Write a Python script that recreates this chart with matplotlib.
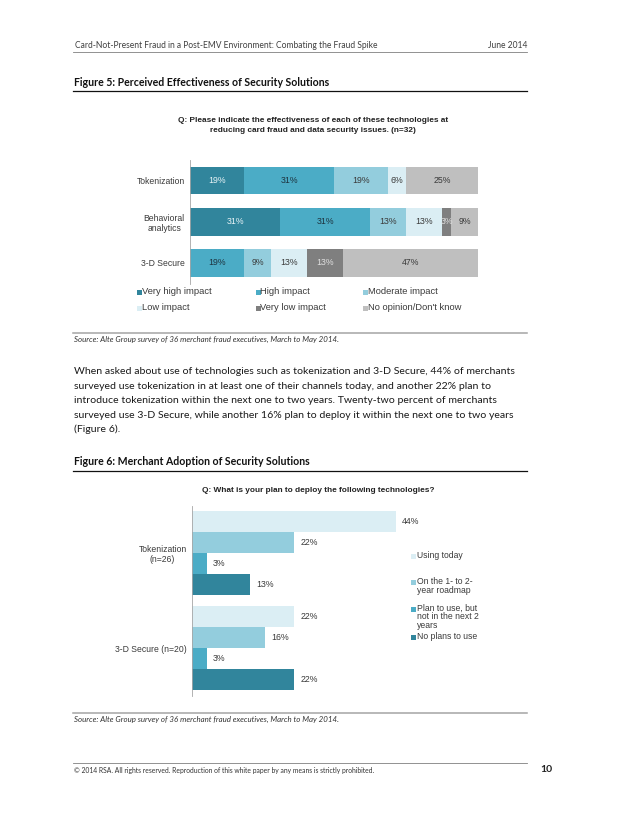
import numpy as np
import matplotlib
matplotlib.use("Agg")
import matplotlib.pyplot as plt
from matplotlib.patches import Rectangle
from matplotlib.lines import Line2D

W, H = 638, 826
DPI = 75

# Figure 5 data (share of respondents, n=32)
fig5_categories = ["Tokenization", "Behavioral\nanalytics", "3-D Secure"]
fig5_levels = ["Very high impact", "High impact", "Moderate impact",
               "Low impact", "Very low impact", "No opinion/Don't know"]
very_high = [18.75, 31.25, 0]
high = [31.25, 31.25, 18.75]
moderate = [18.75, 12.5, 9.375]
low = [6.25, 12.5, 12.5]
very_low = [0, 3.125, 12.5]
no_opinion = [25, 9.375, 46.875]

# Figure 6 data
fig6_categories = ["Tokenization\n(n=26)", "3-D Secure (n=20)"]
fig6_plans = ["Using today", "On the 1- to 2-\nyear roadmap",
              "Plan to use, but\nnot in the next 2\nyears", "No plans to use"]
using_today = [43.75, 21.875]
roadmap = [21.875, 15.625]
plan_later = [3.125, 3.125]
no_plans = [12.5, 21.875]

body_font = "Lato"
chart_font = "Liberation Sans"
dark = "#31859C"
mid = "#4BACC6"
light = "#93CDDD"
pale = "#DBEEF4"
gray_dk = "#7F7F7F"
gray_lt = "#BFBFBF"
txt = "#3A3A3A"
fs_tick = 8.3
fs_val = 8.4

fig = plt.figure(figsize=(W / DPI, H / DPI), dpi=DPI)
fig.patch.set_facecolor("white")


def fx(x):
    return x / W


def fy(y):
    return 1 - y / H


def text(x, y, s, **kw):
    kw.setdefault("va", "center")
    fig.text(fx(x), fy(y), s, **kw)


def hline(y, x0, x1, color, lw):
    fig.add_artist(Line2D([fx(x0), fx(x1)], [fy(y), fy(y)], color=color, lw=lw,
                          transform=fig.transFigure))


def swatch(x, y, color):
    fig.add_artist(Rectangle((fx(x), fy(y + 2.5)), 5 / W, 5 / H, color=color,
                             transform=fig.transFigure, lw=0))


# page furniture
text(75, 45, "Card-Not-Present Fraud in a Post-EMV Environment: Combating the Fraud Spike",
     family=body_font, fontsize=8.2, color="#404040")
text(527, 45, "June 2014", family=body_font, fontsize=8.2, color="#404040", ha="right")
hline(51.5, 73, 527, "#808080", 0.8)

text(74, 82.5, "Figure 5: Perceived Effectiveness of Security Solutions",
     family=body_font, fontsize=10.1, fontweight="bold", color="#111111")
hline(91, 73, 527, "#111111", 1.2)

text(313, 120, "Q: Please indicate the effectiveness of each of these technologies at",
     family=chart_font, fontsize=7.9, fontweight="bold", ha="center", color="#222222")
text(313, 130, "reducing card fraud and data security issues. (n=32)",
     family=chart_font, fontsize=7.9, fontweight="bold", ha="center", color="#222222")

# Figure 5 chart
ax1 = fig.add_axes([fx(190), fy(283.6), 288 / W, 123.7 / H])
series5 = [very_high, high, moderate, low, very_low, no_opinion]
colors5 = [dark, mid, light, pale, gray_dk, gray_lt]
label_colors5 = ["#E8F3F6", "#1E3440", txt, txt, "#E0E0E0", txt]
y5 = np.arange(len(fig5_categories))
left = np.zeros(len(fig5_categories))
for vals, c, tc in zip(series5, colors5, label_colors5):
    vals = np.array(vals, dtype=float)
    bars = ax1.barh(y5, vals, left=left, height=0.667, color=c, lw=0)
    labs = [f"{int(v + 0.5)}%" if v > 0 else "" for v in vals]
    ax1.bar_label(bars, labels=labs, label_type="center", color=tc,
                  fontsize=fs_val, family=chart_font)
    left += vals
ax1.set_xlim(0, 100)
ax1.set_ylim(2.5, -0.5)
ax1.set_yticks(y5)
ax1.set_yticklabels(fig5_categories, family=chart_font, fontsize=fs_tick, color=txt)
for t in ax1.get_yticklabels():
    t.set_multialignment("center")
ax1.tick_params(axis="y", length=0, pad=5)
ax1.set_xticks([])
for s in ["top", "right", "bottom"]:
    ax1.spines[s].set_visible(False)
ax1.spines["left"].set_color("#A6A6A6")
ax1.spines["left"].set_linewidth(0.8)

leg5_x = [137, 256, 363]
leg5_y = [292, 308]
for i, (name, c) in enumerate(zip(fig5_levels, colors5)):
    x = leg5_x[i % 3]
    yy = leg5_y[i // 3]
    swatch(x, yy, c)
    text(x + 4.5, yy, name, family=chart_font, fontsize=9.0, color=txt)

hline(333, 73, 527, "#A6A6A6", 1.5)
text(74, 339.5, "Source: Alte Group survey of 36 merchant fraud executives, March to May 2014.",
     family=body_font, fontsize=7.6, style="italic", color="#333333")

body = [
    "When asked about use of technologies such as tokenization and 3-D Secure, 44% of merchants",
    "surveyed use tokenization in at least one of their channels today, and another 22% plan to",
    "introduce tokenization within the next one to two years. Twenty-two percent of merchants",
    "surveyed use 3-D Secure, while another 16% plan to deploy it within the next one to two years",
    "(Figure 6).",
]
for i, line in enumerate(body):
    text(74, 371.7 + i * 14.5, line, family=body_font, fontsize=10.05, color="#1A1A1A")

text(74, 462, "Figure 6: Merchant Adoption of Security Solutions",
     family=body_font, fontsize=10.1, fontweight="bold", color="#111111")
hline(470.7, 73, 527, "#111111", 1.2)

text(318, 490, "Q: What is your plan to deploy the following technologies?",
     family=chart_font, fontsize=7.9, fontweight="bold", ha="center", color="#222222")

# Figure 6 chart
ax2 = fig.add_axes([fx(192), fy(695.5), 233 / W, 190 / H])
series6 = [using_today, roadmap, plan_later, no_plans]
colors6 = [pale, light, mid, dark]
bh = 21 / 95
y6 = np.arange(len(fig6_categories))
for i, (vals, c) in enumerate(zip(series6, colors6)):
    bars = ax2.barh(y6 + (i - 1.5) * bh, vals, height=bh, color=c, lw=0)
    ax2.bar_label(bars, labels=[f"{int(v + 0.5)}%" for v in vals], padding=6,
                  color=txt, fontsize=fs_val, family=chart_font)
ax2.set_xlim(0, 50)
ax2.set_ylim(1.5, -0.5)
ax2.set_yticks(y6)
ax2.set_yticklabels(fig6_categories, family=chart_font, fontsize=fs_tick, color=txt)
for t in ax2.get_yticklabels():
    t.set_multialignment("center")
ax2.tick_params(axis="y", length=0, pad=5)
ax2.set_xticks([])
for s in ["top", "right", "bottom"]:
    ax2.spines[s].set_visible(False)
ax2.spines["left"].set_color("#A6A6A6")
ax2.spines["left"].set_linewidth(0.8)

leg6_y = [556, 582, 609, 637.5]
leg6_spacing = [1.0, 1.12, 0.98, 1.0]
for name, c, yy, ls in zip(fig6_plans, colors6, leg6_y, leg6_spacing):
    swatch(411, yy, c)
    text(416.5, yy - 5.5, name, family=chart_font, fontsize=fs_tick, color=txt,
         va="top", linespacing=ls)

hline(713, 73, 527, "#A6A6A6", 1.5)
text(74, 719.5, "Source: Alte Group survey of 36 merchant fraud executives, March to May 2014.",
     family=body_font, fontsize=7.6, style="italic", color="#333333")

hline(763, 73, 527, "#808080", 0.8)
text(74, 770, "\u00a9 2014 RSA. All rights reserved. Reproduction of this white paper by any means is strictly prohibited.",
     family=body_font, fontsize=6.5, color="#333333")
text(552, 770, "10", family=body_font, fontsize=10, fontweight="bold", ha="right", color="#222222")

fig.savefig("out.png", dpi=DPI, facecolor="white")
